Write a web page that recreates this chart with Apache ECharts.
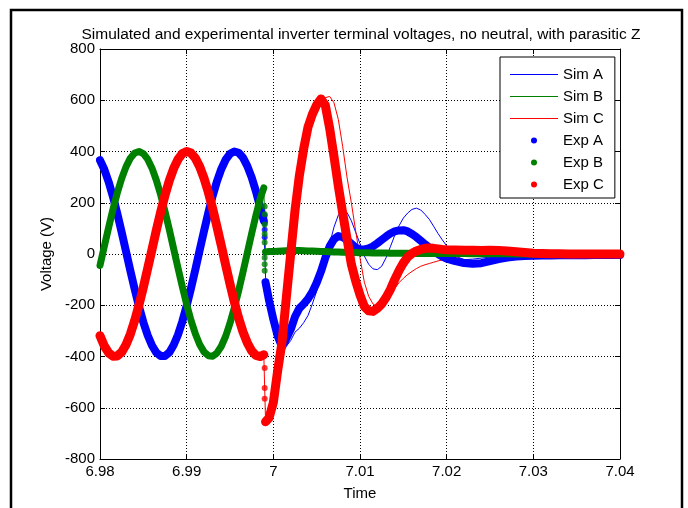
<!DOCTYPE html>
<html>
<head>
<meta charset="utf-8">
<script src="https://cdn.jsdelivr.net/npm/echarts@6/dist/echarts.min.js"></script>
<style>
  html, body { margin: 0; padding: 0; background: #fff; }
  #chart { width: 688px; height: 508px; }
</style>
</head>
<body>
<div id="chart"></div>
<script>
// time axis (s): before the switching event and after it
const preTime = [
  6.9800, 6.9805, 6.9810, 6.9815, 6.9820, 6.9825, 6.9830, 6.9835, 6.9840, 6.9845,
  6.9850, 6.9855, 6.9860, 6.9865, 6.9870, 6.9875, 6.9880, 6.9885, 6.9890, 6.9895,
  6.9900, 6.9905, 6.9910, 6.9915, 6.9920, 6.9925, 6.9930, 6.9935, 6.9940, 6.9945,
  6.9950, 6.9955, 6.9960, 6.9965, 6.9970, 6.9975, 6.9980, 6.9985, 6.9989
]
const postTime = [
  6.9991, 6.9995,
  7.0000, 7.0005, 7.0010, 7.0015, 7.0020, 7.0025, 7.0030, 7.0035, 7.0040, 7.0045,
  7.0050, 7.0055, 7.0060, 7.0065, 7.0070, 7.0075, 7.0080, 7.0085, 7.0090, 7.0095,
  7.0100, 7.0105, 7.0110, 7.0115, 7.0120, 7.0125, 7.0130, 7.0135, 7.0140, 7.0145,
  7.0150, 7.0155, 7.0160, 7.0165, 7.0170, 7.0175, 7.0180, 7.0185, 7.0190, 7.0195,
  7.0200, 7.021, 7.022, 7.023, 7.024, 7.025, 7.026, 7.027, 7.028, 7.029,
  7.030, 7.031, 7.032, 7.033, 7.034, 7.035, 7.036, 7.037, 7.038, 7.039, 7.040
]

// steady state phase voltages (V), sim and exp overlap here
const preA = [
  366, 330, 281, 223, 157, 85, 10, -65, -137, -205,
  -266, -317, -357, -385, -398, -398, -384, -355, -315, -263,
  -202, -134, -61, 15, 89, 161, 227, 284, 332, 368,
  391, 400, 395, 376, 343, 299, 244, 180, 130
]
const preB = [
  -45, 30, 104, 175, 239, 295, 340, 374, 394, 400,
  392, 370, 335, 288, 231, 166, 95, 20, -55, -128,
  -197, -259, -311, -353, -382, -397, -399, -386, -360, -321,
  -270, -210, -143, -70, 5, 80, 152, 218, 258
]
const preC = [
  -319, -359, -386, -399, -398, -383, -354, -313, -260, -199,
  -130, -57, 18, 93, 164, 229, 287, 334, 369, 392,
  400, 394, 374, 341, 296, 241, 177, 106, 32, -43,
  -117, -187, -250, -304, -347, -378, -396, -400, -393
]

// simulated, after the event
const simPostA = [
  -90, -170,
  -250, -320, -368, -360, -338, -305, -290, -268, -240, -195,
  -145, -85, -25, 40, 105, 152, 173, 162, 130, 85,
  40, -8, -40, -58, -61, -48, -15, 28, 72, 110,
  140, 160, 174, 179, 172, 155, 135, 108, 80, 55,
  32, -8, -22, -20, -16, -12, -10, -9, -8, -8,
  -7, -7, -7, -6, -6, -6, -6, -6, -6, -6, -6
]
const simPostB = [
  4, 5,
  5, 5, 5, 5, 4, 4, 4, 4, 4, 3,
  3, 3, 3, 3, 3, 2, 2, 2, 2, 2,
  2, 2, 2, 1, 1, 1, 1, 1, 1, 1,
  1, 1, 1, 1, 0, 0, 0, 0, 0, 0,
  0, 0, 0, 0, 0, 0, 0, 0, 0, 0,
  0, 0, 0, 0, 0, 0, 0, 0, 0, 0, 0
]
const simPostC = [
  -650, -648,
  -610, -500, -380, -220, -50, 120, 270, 380, 470, 530,
  570, 595, 610, 615, 590, 525, 420, 300, 200, 90,
  -15, -110, -165, -195, -205, -200, -185, -160, -135, -112,
  -95, -80, -68, -57, -48, -42, -37, -32, -27, -23,
  -19, -13, -8, -5, -3, -2, -1, 0, 0, 0,
  0, 0, 0, 0, 0, 0, 0, 0, 0, 0, 0
]

// experimental, after the event
const expPostA = [
  -110, -180,
  -255, -320, -362, -330, -295, -245, -212, -195, -175, -148,
  -112, -68, -15, 30, 58, 70, 66, 55, 40, 25,
  18, 18, 22, 30, 42, 55, 68, 80, 88, 92,
  93, 88, 78, 66, 52, 38, 25, 12, 0, -10,
  -18, -28, -35, -38, -36, -28, -20, -14, -10, -8,
  -7, -6, -6, -5, -5, -5, -5, -4, -4, -4, -4
]
const expPostB = [
  8, 10,
  10, 11, 12, 13, 14, 14, 14, 13, 12, 12,
  11, 10, 10, 9, 8, 8, 7, 7, 6, 6,
  5, 5, 5, 4, 4, 4, 4, 3, 3, 3,
  3, 3, 2, 2, 2, 2, 2, 2, 2, 2,
  2, 2, 2, 1, 1, 1, 1, 1, 0, 0,
  0, 0, 0, 0, 0, 0, 0, 0, 0, 0, 0
]
const expPostC = [
  -655, -640,
  -580, -455, -345, -170, 0, 170, 305, 410, 495, 545,
  582, 605, 580, 490, 380, 265, 160, 60, -40, -105,
  -160, -205, -222, -224, -212, -195, -170, -139, -100, -65,
  -35, -12, 2, 12, 18, 22, 23, 22, 20, 18,
  17, 16, 15, 15, 14, 15, 14, 12, 9, 6,
  3, 2, 1, 1, 0, 0, 0, 0, 0, 0, 0
]

// isolated samples caught during the switching jump
const jumpTime = 6.999
const jumpA = [150, 120, 95, 65]
const jumpB = [185, 155, 115, 78, 45, -15, -40, -65]
const jumpC = [-445, -523, -565]

const FONT = 'Liberation Sans, Arial, Helvetica, sans-serif'
const BLUE = '#0000ff'
const GREEN = '#008000'
const RED = '#ff0000'
// legend swatch for the simulated traces: a plain 1px line, no marker
const LINE_ICON = 'path://M0,0H48V1H0Z'

const pairs = (ts, vs) => ts.map((t, i) => [t, vs[i]])
const simData = (pre, post) => pairs(preTime, pre).concat(pairs(postTime, post))
// gap between steady state and transient for the measured traces
const expData = (pre, post) => pairs(preTime, pre).concat([[jumpTime, '-']], pairs(postTime, post))
const jumpData = (vs) => vs.map(v => [jumpTime, v])

const chart = echarts.init(document.getElementById('chart'))

const simSeries = (name, color, pre, post) => ({
  name,
  type: 'line',
  data: simData(pre, post),
  symbol: 'none',
  connectNulls: true,
  lineStyle: { color, width: 1 },
  itemStyle: { color },
  z: 2
})
const expSeries = (name, color, pre, post, width) => ({
  name,
  type: 'line',
  data: expData(pre, post),
  symbol: 'none',
  lineStyle: { color, width, cap: 'round', join: 'round' },
  itemStyle: { color },
  z: 3
})
const dotSeries = (name, color, vs) => ({
  name,
  type: 'scatter',
  data: jumpData(vs),
  symbol: 'circle',
  symbolSize: 6,
  itemStyle: { color },
  z: 3
})

const tickFmt = v => String(parseFloat(Number(v).toFixed(2)))

const option = {
  animation: false,
  backgroundColor: '#fff',
  textStyle: { fontFamily: FONT },
  title: {
    text: 'Simulated and experimental inverter terminal voltages, no neutral, with parasitic Z',
    left: 356,
    top: 22,
    textAlign: 'center',
    textStyle: { fontFamily: FONT, fontSize: 15.5, fontWeight: 'normal', color: '#000' }
  },
  grid: { left: 100, right: 68, top: 49, bottom: 49, containLabel: false },
  legend: {
    orient: 'vertical',
    left: 500,
    top: 57,
    padding: [10, 11, 6, 10],
    itemGap: 7,
    itemWidth: 48,
    itemHeight: 6,
    borderColor: '#000',
    borderWidth: 1,
    borderRadius: 0,
    backgroundColor: '#fff',
    symbolKeepAspect: true,
    textStyle: { fontFamily: FONT, fontSize: 15, color: '#000' },
    data: [
      { name: 'Sim A', icon: LINE_ICON },
      { name: 'Sim B', icon: LINE_ICON },
      { name: 'Sim C', icon: LINE_ICON },
      { name: 'Exp A', icon: 'circle' },
      { name: 'Exp B', icon: 'circle' },
      { name: 'Exp C', icon: 'circle' }
    ]
  },
  xAxis: [
    {
      type: 'value',
      min: 6.98,
      max: 7.04,
      interval: 0.01,
      position: 'bottom',
      name: 'Time',
      nameLocation: 'middle',
      nameGap: 27,
      nameTextStyle: { fontFamily: FONT, fontSize: 15, color: '#000' },
      axisLine: { onZero: false, lineStyle: { color: '#000', width: 1 } },
      axisTick: { inside: true, length: 5, lineStyle: { color: '#000' } },
      axisLabel: { color: '#000', fontSize: 15, margin: 5, formatter: tickFmt },
      splitLine: { show: true, lineStyle: { color: '#000', width: 1, type: [1, 2] } }
    },
    {
      type: 'value',
      min: 6.98,
      max: 7.04,
      interval: 0.01,
      position: 'top',
      axisLine: { onZero: false, lineStyle: { color: '#000', width: 1 } },
      axisTick: { inside: true, length: 5, lineStyle: { color: '#000' } },
      axisLabel: { show: false },
      splitLine: { show: false }
    }
  ],
  yAxis: [
    {
      type: 'value',
      min: -800,
      max: 800,
      interval: 200,
      position: 'left',
      name: 'Voltage (V)',
      nameLocation: 'middle',
      nameGap: 46,
      nameTextStyle: { fontFamily: FONT, fontSize: 15, color: '#000' },
      axisLine: { show: true, onZero: false, lineStyle: { color: '#000', width: 1 } },
      axisTick: { show: true, inside: true, length: 5, lineStyle: { color: '#000' } },
      axisLabel: { color: '#000', fontSize: 15, margin: 5 },
      splitLine: { show: true, lineStyle: { color: '#000', width: 1, type: [1, 2] } }
    },
    {
      type: 'value',
      min: -800,
      max: 800,
      interval: 200,
      position: 'right',
      axisLine: { show: true, onZero: false, lineStyle: { color: '#000', width: 1 } },
      axisTick: { show: true, inside: true, length: 5, lineStyle: { color: '#000' } },
      axisLabel: { show: false },
      splitLine: { show: false }
    }
  ],
  graphic: [
    {
      type: 'rect',
      silent: true,
      shape: { x: 11, y: 10, width: 671, height: 520 },
      style: { fill: 'none', stroke: '#000', lineWidth: 2.5 }
    }
  ],
  series: [
    simSeries('Sim A', BLUE, preA, simPostA),
    simSeries('Sim B', GREEN, preB, simPostB),
    simSeries('Sim C', RED, preC, simPostC),
    expSeries('Exp A', BLUE, preA, expPostA, 8),
    dotSeries('Exp A', BLUE, jumpA),
    expSeries('Exp B', GREEN, preB, expPostB, 7),
    dotSeries('Exp B', GREEN, jumpB),
    expSeries('Exp C', RED, preC, expPostC, 9),
    dotSeries('Exp C', RED, jumpC)
  ]
}

chart.setOption(option)
</script>
</body>
</html>
